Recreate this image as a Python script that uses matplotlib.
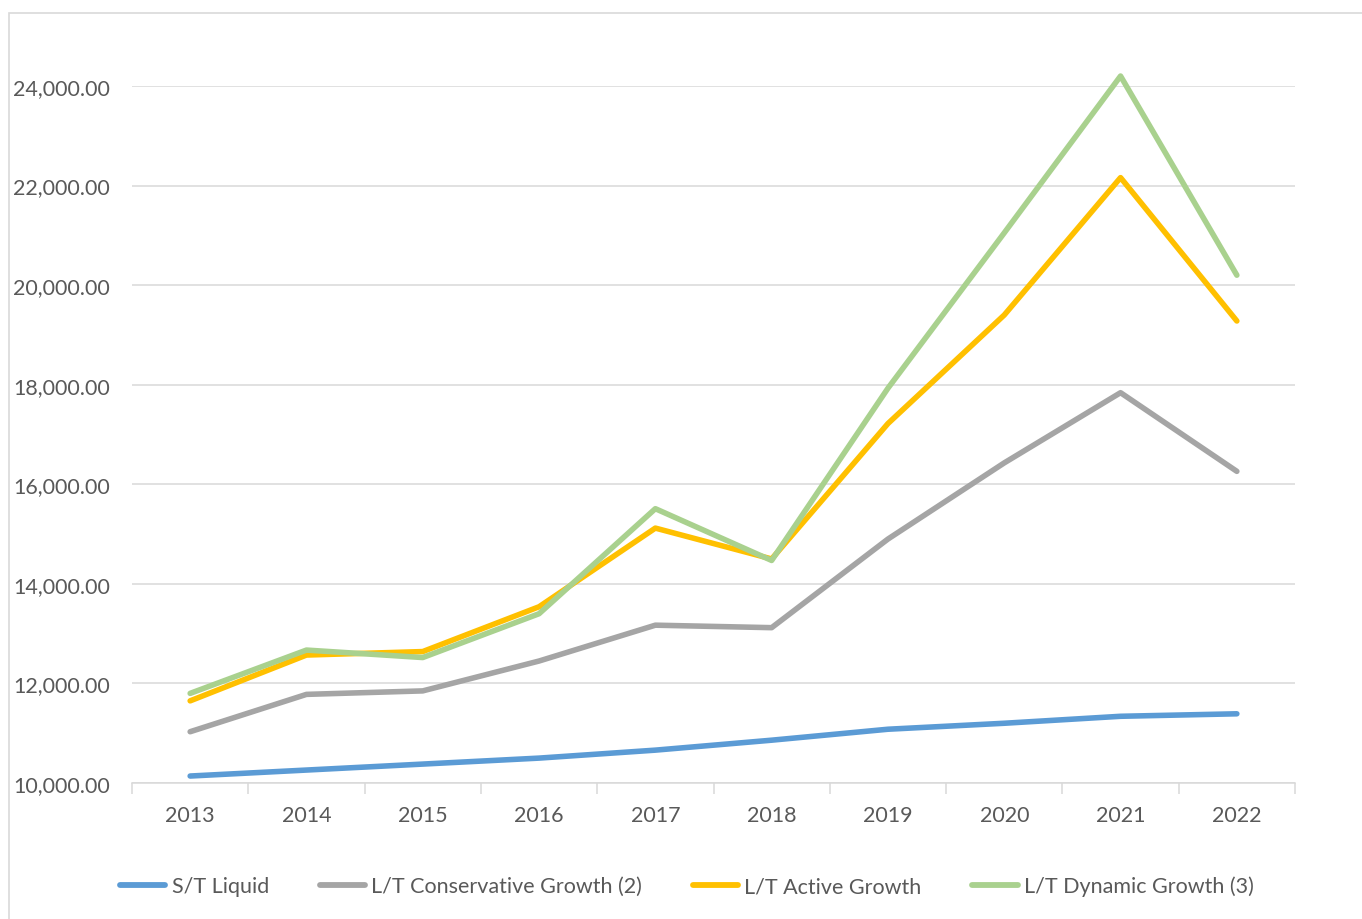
import matplotlib
matplotlib.use("Agg")
import matplotlib.pyplot as plt
from matplotlib.patches import Rectangle
from matplotlib.ticker import FuncFormatter, FixedLocator

years = ["2013", "2014", "2015", "2016", "2017", "2018", "2019", "2020", "2021", "2022"]
st_liquid = [10140, 10260, 10380, 10500, 10660, 10860, 11080, 11200, 11340, 11390]
lt_conservative = [11030, 11780, 11850, 12450, 13170, 13120, 14900, 16430, 17840, 16260]
lt_active = [11650, 12570, 12640, 13540, 15120, 14500, 17220, 19400, 22160, 19280]
lt_dynamic = [11800, 12670, 12520, 13400, 15510, 14470, 17930, 21050, 24200, 20200]

series_names = ["S/T Liquid", "L/T Conservative Growth (2)", "L/T Active Growth", "L/T Dynamic Growth (3)"]
colors = ["#5B9BD5", "#A5A5A5", "#FFC000", "#A9D18E"]

plt.rcParams['font.family'] = ['Lato', 'DejaVu Sans']
txt_color = "#595959"
fs = 15.5

fig = plt.figure(figsize=(13.62, 9.2), dpi=100)
fig.patch.set_facecolor("white")
# outer chart border
fig.add_artist(Rectangle((9/1362, -0.05), 1.1, 1 - 14/920 + 0.05, transform=fig.transFigure,
                         fill=False, edgecolor="#D9D9D9", linewidth=1.2))

ax = fig.add_axes([132/1362, 1 - 784/920, (1295 - 132)/1362, (784 - 87)/920])
x = list(range(len(years)))
for vals, name, c in zip([st_liquid, lt_conservative, lt_active, lt_dynamic], series_names, colors):
    ax.plot(x, vals, color=c, linewidth=4.0, label=name, solid_capstyle="round",
            solid_joinstyle="round", clip_on=False, zorder=3)

ax.set_xlim(-0.5, len(years) - 0.5)
ax.set_ylim(10000, 24000)
ax.set_yticks(range(10000, 24001, 2000))
ax.yaxis.set_major_formatter(FuncFormatter(lambda v, p: f"{v:,.2f}"))
ax.grid(axis="y", color="#D9D9D9", linewidth=1.1, zorder=0)
ax.set_axisbelow(True)

ax.set_xticks(x)
ax.set_xticklabels(years)
ax.xaxis.set_minor_locator(FixedLocator([i - 0.5 for i in range(len(years) + 1)]))
ax.tick_params(axis="x", which="major", length=0, pad=16, labelsize=fs, labelcolor=txt_color)
ax.tick_params(axis="x", which="minor", length=8, width=1.1, color="#D9D9D9")
ax.tick_params(axis="y", length=0, pad=16, labelsize=fs, labelcolor=txt_color)

for s in ["top", "right", "left"]:
    ax.spines[s].set_visible(False)
ax.spines["bottom"].set_color("#D9D9D9")
ax.spines["bottom"].set_linewidth(1.1)

leg = fig.legend(loc="center", bbox_to_anchor=(687/1362, 1 - 887/920), ncol=4, frameon=False,
                 fontsize=fs, handlelength=2.1, handletextpad=0.3, columnspacing=2.35)
for t in leg.get_texts():
    t.set_color(txt_color)
for h in leg.get_lines():
    h.set_linewidth(4.2)
    h.set_solid_capstyle("round")

fig.savefig("out.png", dpi=100, facecolor="white")
